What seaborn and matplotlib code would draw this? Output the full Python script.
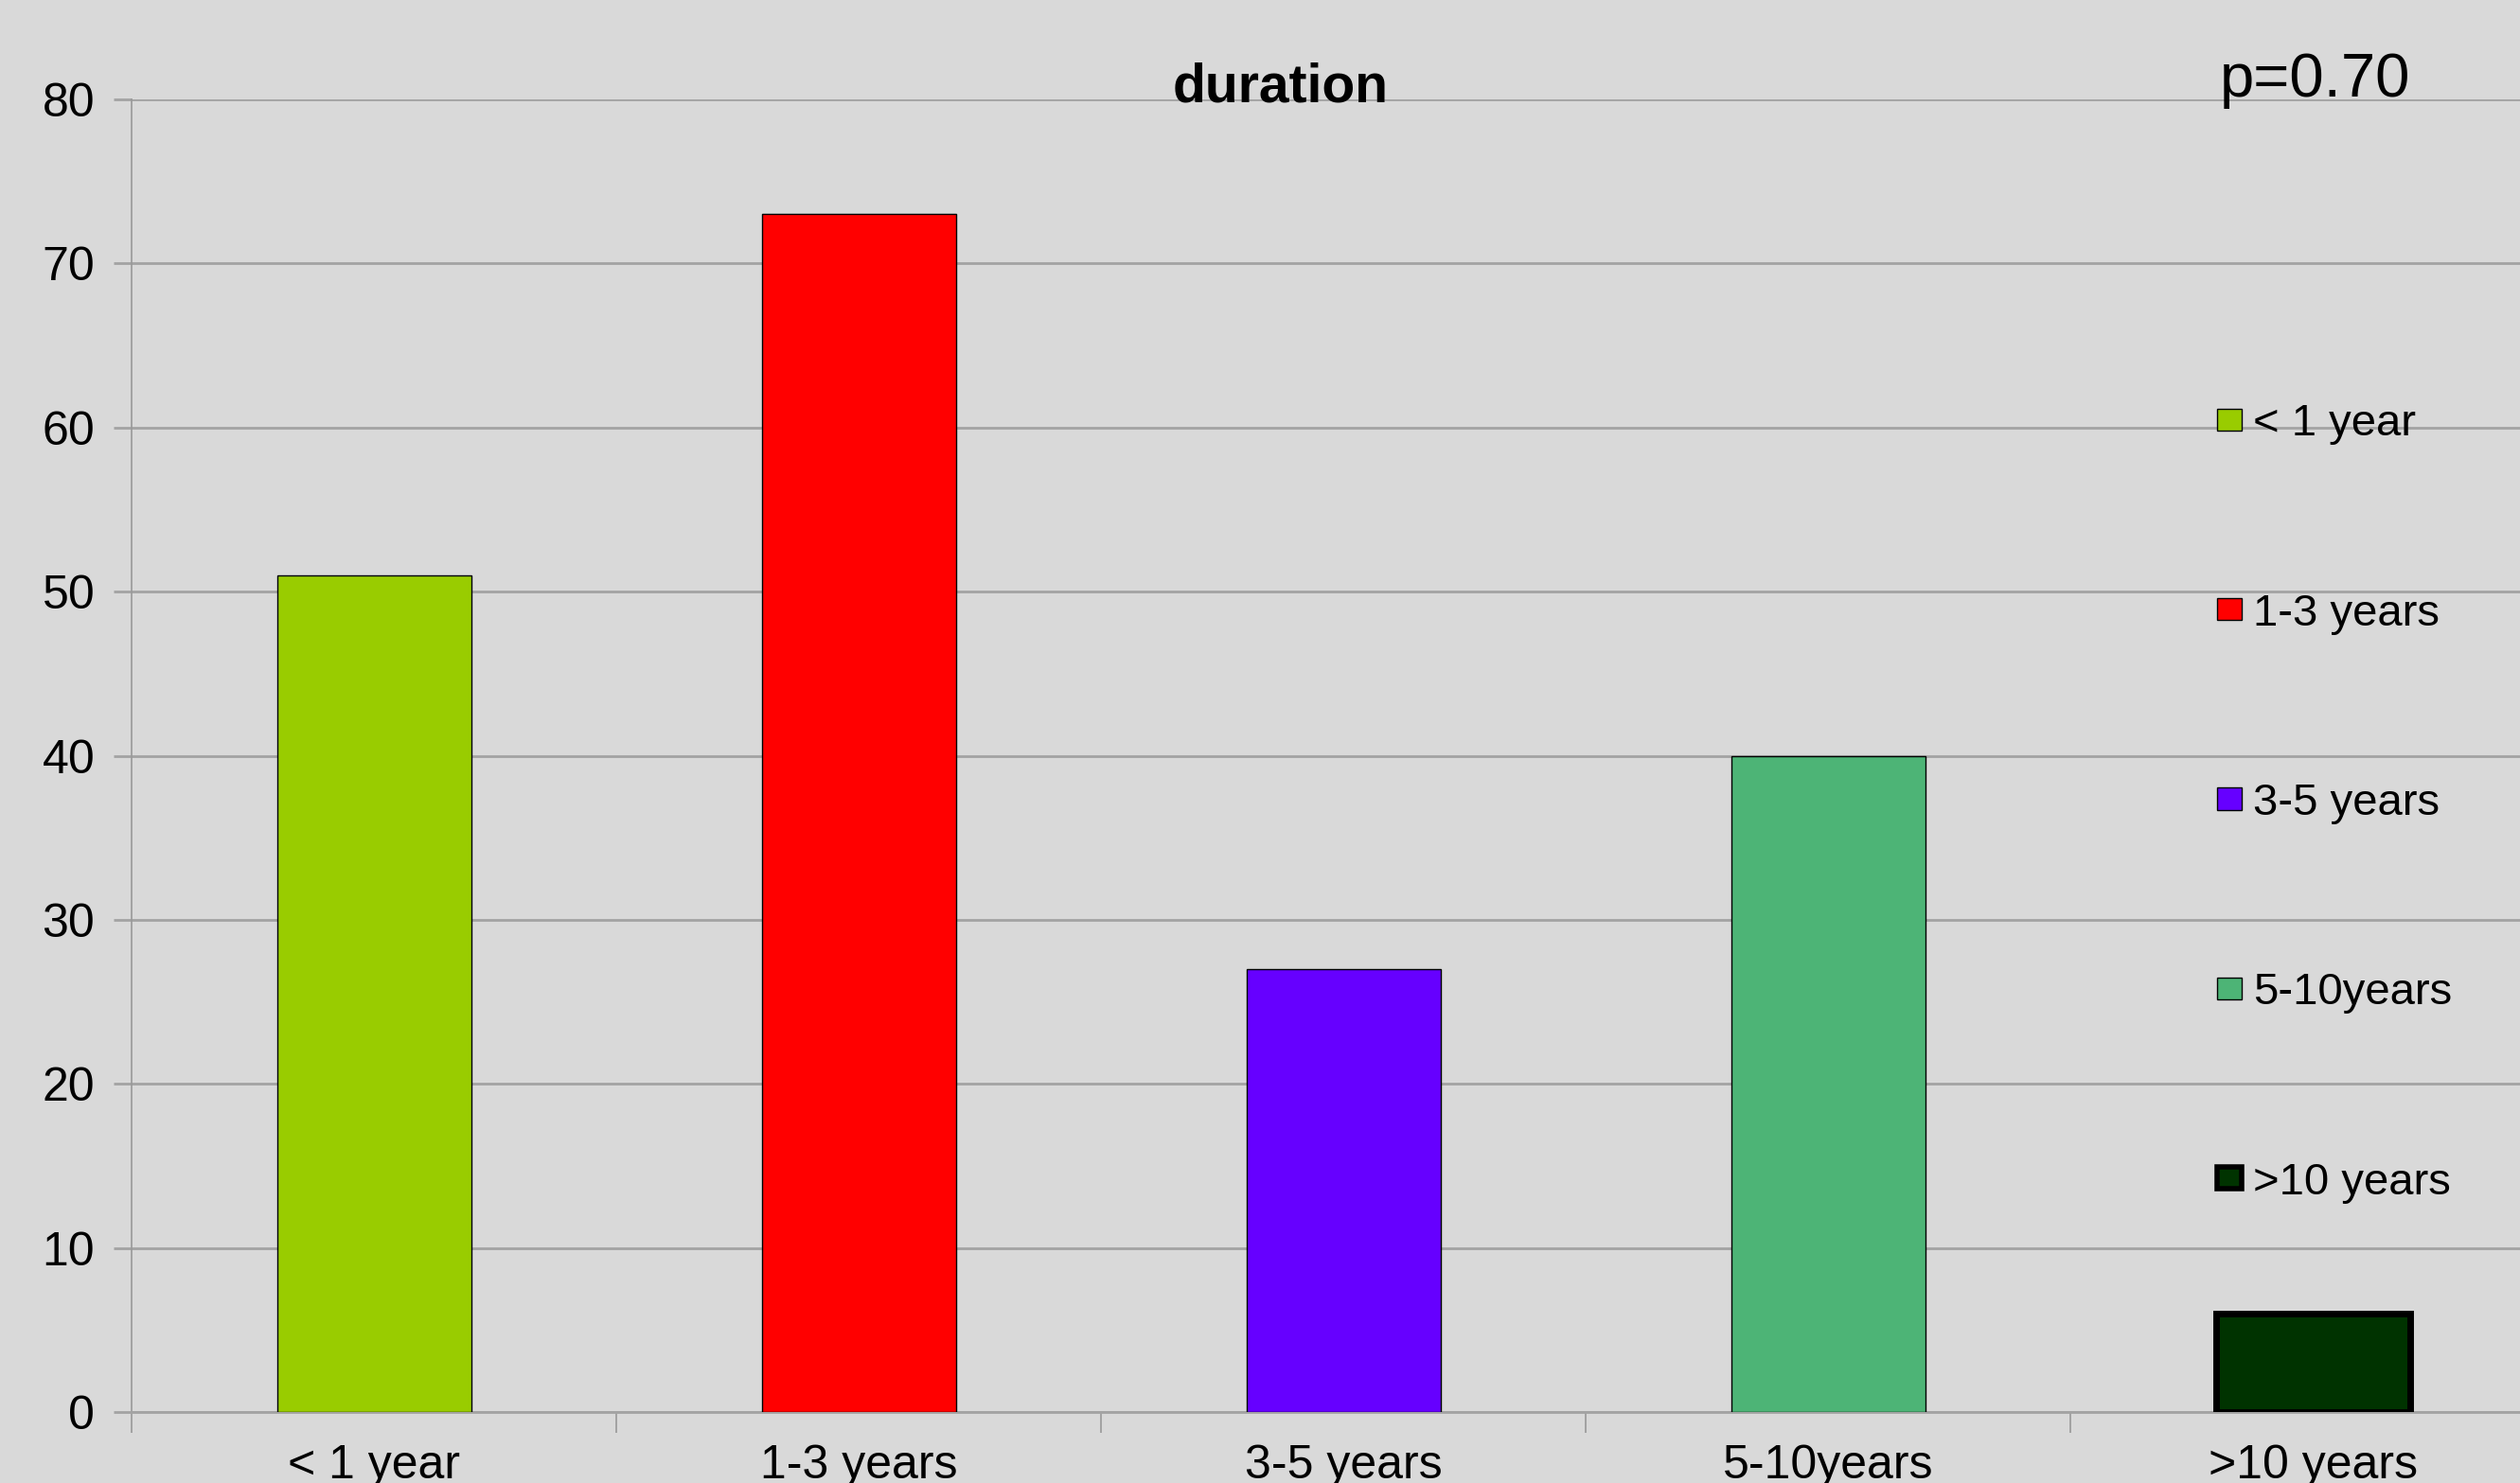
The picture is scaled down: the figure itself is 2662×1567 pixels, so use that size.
import matplotlib
matplotlib.use("Agg")
import matplotlib.pyplot as plt
import seaborn as sns
import pandas as pd
from matplotlib.patches import Patch

# data
categories = ["< 1 year", "1-3 years", "3-5 years", "5-10years", ">10 years"]
counts = [51, 73, 27, 40, 6]
colors = ["#99cc00", "#ff0000", "#6600ff", "#4db476", "#003300"]
yticks = [0, 10, 20, 30, 40, 50, 60, 70, 80]

df = pd.DataFrame({"duration": categories, "n": counts})

bg = "#d9d9d9"
narrow = ["Liberation Sans Narrow", "Liberation Sans", "DejaVu Sans"]
regular = ["Liberation Sans", "DejaVu Sans"]

sns.set_style("white")
plt.rcParams["font.family"] = regular
plt.rcParams["text.color"] = "black"
plt.rcParams["xtick.labelcolor"] = "black"
plt.rcParams["ytick.labelcolor"] = "black"

fig = plt.figure(figsize=(26.62, 15.67), dpi=100, facecolor=bg)
ax = fig.add_axes([0.0523, 0.0477, 0.9617, 0.8853])
ax.set_facecolor(bg)

sns.barplot(data=df, x="duration", y="n", hue="duration", palette=colors,
            width=0.4, edgecolor="black", linewidth=1.0, legend=False,
            saturation=1, ax=ax, zorder=3)
ax.patches[4].set_linewidth(5)

ax.set_ylim(0, 80)
ax.set_xlim(-0.5, 4.5)
ax.set_yticks(yticks)
ax.yaxis.grid(True, color="#a3a3a3", linewidth=2, zorder=0)
ax.set_axisbelow(True)
ax.set_xlabel("")
ax.set_ylabel("")

for s in ["top", "right"]:
    ax.spines[s].set_visible(False)
ax.spines["left"].set_color("#999999")
ax.spines["left"].set_linewidth(1.2)
ax.spines["bottom"].set_color("#a3a3a3")
ax.spines["bottom"].set_linewidth(2)

ax.tick_params(axis="y", left=True, length=14, width=2, color="#a3a3a3",
               pad=14, labelsize=36)
ax.tick_params(axis="x", which="major", bottom=True, length=0, pad=24,
               labelsize=36)
ax.set_xticks([i - 0.5 for i in range(5)], minor=True)
ax.tick_params(axis="x", which="minor", bottom=True, length=16, width=1.2,
               color="#999999")
for lab in ax.get_xticklabels() + ax.get_yticklabels():
    lab.set_family(narrow)

fig.text(0.508, 0.941, "duration", ha="center", va="center",
         fontsize=41, fontweight="bold")
fig.text(0.881, 0.946, "p=0.70", ha="left", va="center", fontsize=47,
         family=narrow)

handles = [Patch(facecolor=c, edgecolor="black",
                 linewidth=(4 if i == 4 else 1))
           for i, c in enumerate(colors)]
fig.legend(handles, categories, loc="upper left",
           bbox_to_anchor=(0.871, 0.743), frameon=False, fontsize=34,
           handlelength=0.55, handleheight=0.38, handletextpad=0.25,
           labelspacing=3.31, borderpad=0)

fig.savefig("out.png", dpi=100, facecolor=bg)
